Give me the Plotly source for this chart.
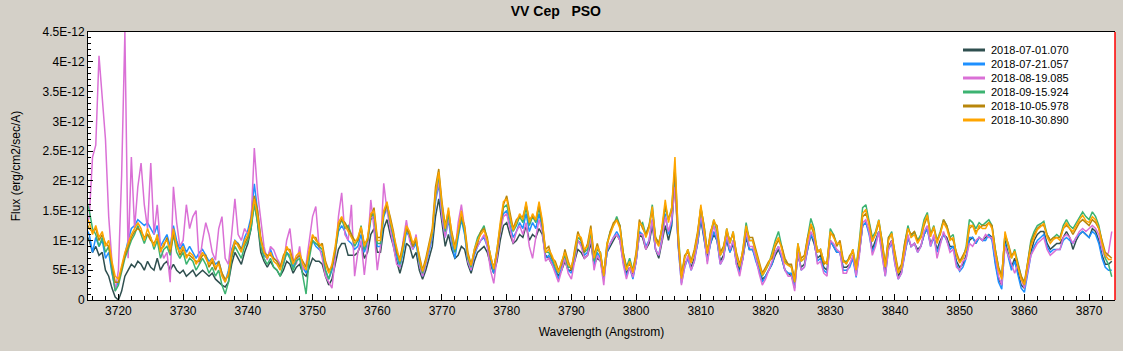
import numpy as np
import plotly.graph_objects as go

# ---------------- data (flux in units of 1E-13 erg/cm2/sec/A) ----------------
WL_START, WL_STOP, WL_STEP = 3715.0, 3873.5, 0.5
wavelength = np.arange(WL_START, WL_STOP + WL_STEP / 2, WL_STEP)

series_names = ["2018-07-01.070", "2018-07-21.057", "2018-08-19.085",
                "2018-09-15.924", "2018-10-05.978", "2018-10-30.890"]

flux_0701 = [11,
    10, 8, 9, 7.5, 8, 5, 4, 2, 0.5, 0, 1.5, 4, 5, 6, 5.5, 6.5, 6, 5, 6.5, 5.5,
    5, 7, 5, 6, 6.5, 5, 6, 5, 4.5, 5, 4, 4.5, 5, 4, 4.5, 5, 4.5, 4, 4.5, 3.5,
    3, 2.5, 2.2, 3, 6, 8, 7, 6, 8, 9.5, 12, 17, 13, 8, 6.5, 5.5, 6.5, 5.5, 5, 4,
    5, 6.5, 6, 4.5, 5.5, 6, 4.5, 4, 5.5, 7, 6.5, 6.5, 6, 4, 2.5, 3.5, 6, 8.5, 9.5, 9.5,
    7.5, 7.5, 7.5, 8, 9.5, 7, 8, 11, 12, 8, 8, 12, 13.5, 11, 9, 6.5, 4.5, 6.5, 9.5, 9,
    7, 8, 5, 3.5, 5, 7, 9, 14, 17, 13, 9, 11, 8.5, 7, 7.5, 9, 8.5, 6, 4.5, 6.5,
    8, 8.5, 9, 8, 6, 4.5, 6.5, 10, 12.5, 13, 11, 9.5, 10, 11, 10.5, 12.5, 10, 11, 10.5, 12,
    11, 7.5, 7, 6, 5, 4, 5, 6.5, 5, 5, 6.5, 8.5, 8, 7, 7.5, 9.5, 6, 7, 6.5, 3.5,
    8, 9, 10, 11, 10, 6.5, 4.5, 5.5, 4, 6.5, 11, 10.5, 8.5, 9.5, 12.5, 8.5, 7, 9.5, 12.5, 10,
    12.5, 20, 9.5, 3.5, 6, 7, 5.5, 7, 9.5, 13.5, 10.5, 7, 9.5, 11, 10, 6.5, 7.5, 10, 8, 9.5,
    6.5, 5, 7, 10.5, 8.5, 8.5, 7, 5, 3.5, 4, 5, 6, 7.5, 8.5, 7, 5, 4.5, 4, 2.5, 7.5,
    5.5, 6, 8.5, 11, 9.5, 7, 7.5, 5.5, 5, 10, 9, 8, 8, 5.5, 5.5, 6, 7, 4.5, 8, 12.5,
    13, 11.5, 8.5, 10, 11.5, 8.5, 4.5, 9, 10, 6.5, 4, 5, 8, 10.5, 9, 9.5, 8.5, 9, 11, 12,
    9.5, 10.5, 8.5, 10, 11, 10.5, 9, 9, 6.5, 5.5, 6, 7.5, 10, 10.5, 9.5, 10.5, 10, 10.5, 11, 10.5,
    6.5, 3.5, 2.5, 10, 7.5, 5.5, 7, 4.5, 2.5, 2, 5, 8, 10, 11, 11.5, 11.5, 9.5, 8.5, 9, 9.5,
    9.5, 10.5, 11.5, 10.5, 8.5, 10, 11, 11.5, 11, 10.5, 12, 11.5, 10, 7.5, 6, 6, 6.5]

flux_0721 = [12,
    11, 8, 10.5, 9, 10, 7, 8, 4.5, 2, 3, 5.5, 8, 10, 12, 12.5, 13.5, 13, 12.5, 13, 12,
    11, 12.5, 9, 10, 11, 9, 12.5, 10, 8.5, 9.5, 8, 9, 8, 7, 8, 8.5, 7.5, 6.5, 7, 6,
    6.5, 4.5, 3, 5, 8.5, 10, 9.5, 8.5, 10.5, 11.7, 14, 19.5, 15, 10, 7.5, 7, 8.5, 7, 6.5, 5.5,
    6, 8, 7.5, 5.5, 7, 7.5, 5.5, 4.5, 8, 10, 9, 8.5, 8, 5, 3.5, 5, 8, 11.5, 12.5, 11.5,
    10, 9.5, 8.5, 9, 11, 8, 9.5, 13.5, 14, 9, 9, 14, 15.5, 12.5, 10, 7.5, 5.5, 8, 11.5, 10.5,
    8.5, 9.5, 6, 4, 6, 8, 10.5, 16.5, 19.5, 14, 10.5, 13.5, 9.5, 7, 10.5, 13.5, 11, 6.5, 5, 7.5,
    9, 10, 10.5, 9, 6.5, 4.5, 7.5, 11.5, 14.5, 15, 12.5, 10.5, 11.5, 13, 12, 14.5, 11.5, 13, 12, 14.5,
    12, 7, 7.5, 6.5, 5, 3.5, 5.5, 7, 5, 4.5, 7, 10, 9.5, 7.5, 8, 11, 6, 8, 7, 3.5,
    8, 9.5, 10.5, 11.5, 10.5, 6.5, 4, 5.5, 3.5, 6.5, 11.5, 11, 9, 10, 13.5, 8.5, 7.5, 10.5, 14.5, 11,
    13, 21, 9, 2.8, 5.5, 7, 5, 6.5, 9.5, 14, 10.5, 6.5, 9.5, 11.5, 10, 6, 7, 10.5, 8, 10,
    6, 4.5, 7, 11, 8.5, 8.5, 6.5, 5, 3, 4, 5, 6, 8, 9, 7, 5, 4.5, 4.5, 2, 8,
    5, 5.5, 8.5, 11, 10, 6.5, 7, 5, 4.5, 10, 9, 8, 8, 5, 5, 5.5, 7, 3.8, 8, 12.5,
    13, 11, 8, 9.5, 11.5, 8, 4, 8.5, 9.5, 6, 3.5, 4.5, 7.5, 10.5, 9, 9.5, 8, 9, 11, 12,
    9, 10.5, 8, 9.5, 11, 10, 8.5, 9, 6, 4.8, 5.5, 7, 10.5, 10.5, 9.5, 10.5, 10, 10, 11, 10,
    6, 3, 1.8, 9.5, 7, 5, 6.5, 4, 2, 1.3, 4.5, 7.5, 9, 10, 10.5, 11, 9, 8, 8.5, 8.5,
    8.5, 10, 10.5, 10, 9.5, 10.5, 11, 11.5, 11, 10.5, 11.5, 11, 9.5, 7, 5.5, 5, 5]

flux_0819 = [12,
    14, 24, 26, 41, 34, 27, 14, 6.5, 1.5, 5, 21, 45, 7, 24, 12, 19, 23, 16, 12, 23,
    11, 16, 9, 7, 8, 3, 19, 13, 9, 10, 16, 12, 14, 15, 6, 10, 13, 11, 8, 6.7,
    12, 14, 7, 6, 11, 17, 11, 10, 12, 11, 13, 25.5, 18, 13, 9, 6.7, 9, 8.4, 7, 6,
    6, 10, 12, 7, 6, 9, 5, 6, 10, 14, 15.7, 9, 7, 4, 3, 2, 7, 14, 18, 11,
    10, 16, 4, 8, 10, 4.2, 9, 16.8, 12, 5, 9, 19.6, 15, 12, 9, 6, 5.5, 10, 13.4, 10,
    8.5, 11, 6, 4, 6, 8.5, 11, 17, 20, 14, 10.5, 14, 10, 8, 13, 16, 12, 6.5, 5, 8,
    9, 10, 11, 9, 5, 2.8, 7, 11.5, 14, 14.5, 12, 9.5, 11.5, 12.5, 11, 13, 9, 7, 10.5, 13.5,
    11.5, 6.5, 7, 6, 4.5, 3, 5, 7, 4.5, 3.5, 6.5, 10, 9, 7, 7.5, 10.5, 5, 7.5, 6.5, 2.5,
    8.5, 9.5, 10.5, 11, 10, 6, 3.5, 5.5, 3.8, 6.5, 11, 11, 8.5, 10, 13.5, 8.5, 7.5, 10, 14, 11.5,
    13.5, 19, 9.5, 2.5, 5.5, 7.5, 5, 6.5, 10, 14.5, 11, 6, 10, 12.5, 10.5, 6, 7, 11, 8.5, 10,
    6, 4, 7, 11.5, 9, 9, 7, 4.5, 2.5, 3.5, 5, 6.5, 8, 9, 7.5, 5, 4, 4, 1.5, 8,
    5, 5.5, 9, 11.5, 10.5, 6, 6.5, 4.5, 4, 10, 9.5, 8.5, 8, 4.5, 4.5, 6, 7.5, 4, 7.5, 13,
    13.5, 11.5, 7.5, 9, 11.5, 7.5, 4, 8.5, 10, 6, 3.5, 4.5, 7.5, 11, 9, 9.5, 8, 9, 11.5, 12.5,
    9, 11, 7, 9.5, 11.5, 10, 8, 8.5, 5.5, 5, 6.5, 7, 9.5, 9, 10, 10.5, 10, 11, 10.5, 10.5,
    7, 4, 2.5, 9, 7.5, 6, 4.5, 6, 3.5, 2, 5, 7.5, 8.5, 9.5, 10, 10.5, 8.5, 7.5, 8, 8.5,
    8.5, 10.5, 11, 10.5, 9.5, 10.5, 11.5, 12, 11.5, 12, 12.5, 12, 11, 8.5, 7, 8, 11.5]

flux_0915 = [17,
    15, 12, 11, 9, 10.5, 8, 9, 5, 1.5, 2.5, 5, 7, 8.5, 10, 11, 12.5, 11, 9.5, 11, 10.5,
    8.5, 10, 7, 8.5, 9, 7.5, 11, 8, 7, 8, 6, 7, 6.5, 5, 6, 7, 6, 4.5, 5.5, 4,
    5, 2.5, 1, 3, 7, 9, 8, 7, 9, 10, 12, 16, 13, 9, 7, 6, 7, 5.5, 5, 4,
    6, 8, 7, 5, 6.5, 7, 4, 1, 7, 10, 9.5, 9, 8.5, 5, 3.5, 5.5, 8, 12, 13.5, 12,
    12.5, 11, 9, 10, 12.5, 8.5, 10, 14, 14.5, 9.5, 9.5, 14.5, 16, 13, 10.5, 8, 6, 8.5, 12, 11,
    9, 10, 6.5, 4.5, 6.5, 9, 11, 17.5, 21, 15.5, 11.5, 14.5, 10.5, 8, 11, 14, 11.5, 7, 5.5, 8.5,
    10.5, 11.5, 12.5, 10, 7.5, 5, 8.5, 12.5, 15.5, 16, 13.5, 11.5, 12.5, 14, 13, 15.5, 12.5, 14, 13, 15.5,
    12.5, 8, 8, 7, 5.5, 4.5, 6.5, 7.5, 5.5, 5.5, 7.5, 10.5, 10, 8, 8.5, 11.5, 6.5, 8.5, 8, 4,
    9.5, 11.5, 12.5, 14, 12.5, 8, 5.5, 7, 5, 7.5, 12.5, 13, 11, 12.5, 16, 10.5, 9.5, 12, 15.5, 13.5,
    15.5, 22.5, 11.5, 4, 7, 8.5, 6.5, 8, 11, 15.5, 12.5, 8, 11, 13.5, 11.5, 7.5, 8.5, 12, 9.5, 11.5,
    7.5, 5.5, 8.5, 13, 10, 10, 8, 6, 4, 5, 6, 8, 10, 11.5, 9, 6.5, 6, 5.5, 3, 9.5,
    6.5, 7, 10.5, 13.7, 12, 8, 8.5, 6.5, 6, 12, 11, 9.5, 9.5, 6.5, 6.5, 7, 8.5, 5.5, 10, 15.5,
    16, 13.5, 10.5, 11.5, 13.5, 10, 5.5, 10.5, 11.5, 7.5, 4.5, 5.5, 9.5, 12.5, 10.5, 11.5, 10, 11, 13.5, 14.7,
    11, 12.5, 10, 11.5, 13.5, 12.5, 10.5, 11, 7.5, 6.5, 7, 9, 13.5, 13, 12, 13, 12.5, 13, 13.5, 12.5,
    8.5, 5.5, 4, 11, 9, 7, 8.5, 6, 4, 2.5, 6.5, 10, 11.5, 12.5, 12.8, 13.2, 11, 10, 10.5, 11,
    10.5, 12.5, 13.5, 12.5, 12, 13, 14, 14.8, 14, 13.5, 14.8, 14, 12.5, 9.5, 7, 6, 3.9]

flux_1005 = [13,
    12, 11.5, 12, 10, 11, 9.5, 9, 6, 3, 3, 5.5, 7.5, 9, 10.5, 11.5, 12, 11.5, 10.5, 11, 10,
    9.5, 10.5, 8.5, 9, 10.5, 8, 11, 9.5, 7.5, 8.5, 7.5, 7.5, 7, 6.5, 6.5, 7.5, 7.5, 5.5, 6.5, 5,
    6.5, 4.5, 3.5, 4, 7.5, 9.5, 9.5, 8.5, 9.5, 10.5, 13.5, 17.5, 15, 10.5, 8, 7.5, 7.5, 7, 6.5, 5.5,
    7.5, 8.5, 8.5, 6.5, 7, 7.5, 6.5, 5.5, 8, 10.5, 10.5, 9, 9.5, 6.5, 5, 5.5, 8.5, 12.5, 13.5, 13,
    12, 11, 10, 10, 12, 9.5, 10, 14, 15.5, 10.5, 10.5, 14.5, 16, 14, 11.5, 8, 7, 9.5, 12, 11,
    9, 10, 7.5, 5, 7, 9.5, 12, 19, 22, 16.5, 12.5, 15, 11.5, 9, 11.5, 14, 12.5, 8, 6, 8,
    9.5, 11.5, 12, 10.5, 7, 5.5, 8, 12.5, 16, 17.5, 14.5, 12, 13.5, 14, 14, 16, 13.5, 14, 13.5, 16,
    13, 8.5, 9, 7, 6.5, 5, 6, 8.5, 6.5, 5, 8.5, 11.5, 10, 8, 9.5, 12.5, 7.5, 9.5, 7.5, 4.5,
    9, 11.5, 13, 13.5, 12.5, 8, 5.5, 6, 5, 8, 13.5, 12, 11, 12.5, 15, 10.5, 9.5, 12, 16, 13.5,
    15, 22, 10, 4, 7.5, 8, 6.5, 8.5, 11.5, 15.5, 12.5, 8, 11.5, 13, 12.5, 8, 9, 11.5, 10, 11,
    8, 6, 8, 12, 10.5, 10.5, 8.5, 6.5, 4.5, 5.5, 6.5, 7, 9, 10, 9, 7, 6, 6, 3.5, 9,
    7, 7.5, 10.5, 12.5, 11, 8.5, 8, 6, 6.5, 11, 11, 9, 10, 6.8, 6, 7.5, 8, 5.5, 9, 14,
    14.5, 13, 10, 11, 13, 10, 6, 10.5, 11, 8, 5, 6, 9.5, 12, 11, 11.5, 10, 10.5, 12.5, 14,
    11, 12, 10, 11, 13.5, 12.5, 10.5, 10, 8, 6.5, 7.5, 8.5, 12, 12.5, 11.5, 12, 12.5, 12.5, 13, 12.5,
    8.5, 5.5, 4, 11, 9.5, 7.5, 8, 6, 4, 3, 6.5, 9.5, 11, 12, 12.5, 12.5, 11, 10, 10.5, 10.5,
    10.5, 12, 12.5, 12, 11, 12, 13, 13.5, 13, 12.5, 13.5, 13, 12, 10, 8, 7.5, 7]

flux_1030 = [14,
    13, 11, 12.5, 10.5, 11.5, 9, 10, 6.5, 4, 3.5, 6, 8, 9.5, 11, 12, 13, 12, 10, 12, 10.5,
    9, 11, 8, 9.5, 10, 8.5, 12, 9, 8, 9, 7, 8, 7.5, 6, 7, 8, 7, 6, 7, 5.5,
    6, 4, 3, 4.5, 8, 10, 9, 8, 10, 11, 13, 17, 14, 10, 8, 7, 8, 6.5, 6, 5,
    7, 9, 8, 6, 7.5, 8, 6, 5, 8.5, 11, 10, 9.5, 9, 6, 4.5, 6, 9, 13, 14, 12.5,
    11.5, 10.5, 9.5, 10.5, 12.3, 9, 10.5, 14.5, 15, 10, 10, 15, 16.5, 13.4, 11.2, 8.5, 6.5, 9, 12.5, 11.5,
    9.5, 10.5, 7, 4.8, 6.5, 9, 11.5, 18, 21.5, 16, 12, 15.5, 11, 8.5, 12, 15, 12, 7.5, 5.8, 8.5,
    10, 11, 11.7, 10, 7.5, 5.2, 8.4, 13, 16.5, 17, 14, 11.7, 13, 14.5, 13.5, 16.5, 13, 14.5, 13.4, 16.5,
    13.4, 8, 8.5, 7.5, 6, 4.6, 6.5, 8, 6, 5.5, 8, 11, 10.5, 8.5, 9, 12, 7, 9, 7.8, 4,
    9.5, 11, 12.5, 13.4, 12, 7.5, 5, 6.5, 4.6, 7.5, 13, 12.5, 10.5, 12, 15.7, 10, 9, 12.3, 16.8, 13,
    15.5, 24, 11, 3.6, 7, 8.5, 6.2, 8, 11, 16, 12.3, 7.8, 11.2, 13.5, 12, 7.5, 8.5, 12, 9.5, 11.5,
    7.5, 5.6, 8.5, 12.5, 10, 10, 8, 6, 4.2, 5, 6.2, 7.5, 9.5, 10.5, 8.5, 6.2, 5.8, 5.5, 3, 9.5,
    6.5, 7, 10, 12.8, 11.5, 8, 8.5, 6.5, 6, 11.5, 10.5, 9.5, 9.5, 6.4, 6.2, 7, 8.5, 5, 9.5, 14.5,
    15.2, 12.5, 9.8, 11.2, 13.4, 9.5, 5.5, 10, 11.2, 7.5, 4.5, 5.5, 9, 12, 10.5, 11, 9.5, 10.5, 13, 14.3,
    10.6, 12.3, 9.5, 11.2, 13, 12, 10, 10.5, 7.5, 6.2, 7, 8.5, 12.5, 12.5, 11, 12.5, 12, 12, 13, 12,
    8, 5, 3.5, 11.5, 9, 7, 8.2, 5.5, 3.5, 2.6, 6, 9, 10.5, 11.8, 12.3, 12.9, 10.6, 9.5, 10.2, 10.5,
    10, 12, 13, 12, 11.5, 12.5, 13.5, 14.2, 13.3, 13, 14, 13.5, 12, 9.5, 7.5, 6.8, 6.8]

FLUX_UNIT = 1e-13
series_values = [flux_0701, flux_0721, flux_0819, flux_0915, flux_1005, flux_1030]
series_colors = ["#2F4F4F", "#1E90FF", "#DA70D6", "#3CB371", "#B8860B", "#FFA500"]

y_tickvals = [0, 5e-13, 1e-12, 1.5e-12, 2e-12, 2.5e-12, 3e-12, 3.5e-12, 4e-12, 4.5e-12]
y_ticktext = ["0", "5E-13", "1E-12", "1.5E-12", "2E-12", "2.5E-12", "3E-12", "3.5E-12", "4E-12", "4.5E-12"]

for v in series_values:
    assert len(v) == len(wavelength), (len(v), len(wavelength))

# ---------------- figure ----------------
FONT = "Liberation Sans, Arial, sans-serif"
PLOT_L, PLOT_R, PLOT_T, PLOT_B = 88, 1115, 32, 300
fig = go.Figure()
for name, vals, col in zip(series_names, series_values, series_colors):
    fig.add_trace(go.Scatter(
        x=wavelength, y=np.array(vals) * FLUX_UNIT, mode="lines", name=name,
        line=dict(color=col, width=1.5), showlegend=False))

# compact legend (inside the plot, top right) drawn as line samples + text
def px_to_paper_x(px):
    return (px - PLOT_L) / (PLOT_R - PLOT_L)

def px_to_paper_y(py):
    return (PLOT_B - py) / (PLOT_B - PLOT_T)

legend_shapes, legend_annots = [], []
for i, (name, col) in enumerate(zip(series_names, series_colors)):
    yy = px_to_paper_y(50 + 14 * i)
    legend_shapes.append(dict(type="line", xref="paper", yref="paper",
                              x0=px_to_paper_x(963), x1=px_to_paper_x(985), y0=yy, y1=yy,
                              line=dict(color=col, width=3)))
    legend_annots.append(dict(text=name, xref="paper", yref="paper", x=px_to_paper_x(989), y=yy,
                              xanchor="left", yanchor="middle", showarrow=False,
                              font=dict(family=FONT, size=11, color="black")))

fig.update_layout(
    width=1123, height=351,
    margin=dict(l=PLOT_L, r=1123 - PLOT_R, t=PLOT_T, b=351 - PLOT_B),
    paper_bgcolor="#D4D0C8", plot_bgcolor="white",
    font=dict(family=FONT, size=12, color="black"),
    title=dict(text="VV Cep\u00a0\u00a0\u00a0PSO", x=0.495, xref="container", xanchor="center",
               y=1 - 11 / 351, yref="container", yanchor="middle",
               font=dict(family=FONT, size=14, color="black", weight="bold")),
    showlegend=False,
    xaxis=dict(range=[3715.3, 3874.0], tick0=3720, dtick=10, ticks="inside", ticklen=6,
               tickcolor="black", showline=True, linecolor="black", linewidth=1, mirror=True,
               showgrid=False, zeroline=False,
               minor=dict(tick0=3720, dtick=2, ticks="inside", ticklen=4, tickcolor="black",
                          showgrid=False),
               title=dict(text="Wavelength (Angstrom)", standoff=10,
                          font=dict(family=FONT, size=12))),
    yaxis=dict(range=[0, 4.5e-12], tickmode="array", tickvals=y_tickvals, ticktext=y_ticktext,
               ticks="inside", ticklen=5, tickcolor="black", showline=True, linecolor="black",
               linewidth=1, mirror=False, showgrid=False, zeroline=False,
               minor=dict(tickmode="linear", tick0=0, dtick=1e-13, ticks="inside", ticklen=3,
                          tickcolor="black", showgrid=False),
               title=dict(text="Flux (erg/cm2/sec/A)", standoff=19,
                          font=dict(family=FONT, size=12))),
    shapes=[dict(type="line", xref="paper", yref="paper", x0=1, x1=1, y0=0, y1=1,
                 line=dict(color="red", width=1.5))] + legend_shapes,
    annotations=legend_annots,
)

fig.write_html("out.html")
